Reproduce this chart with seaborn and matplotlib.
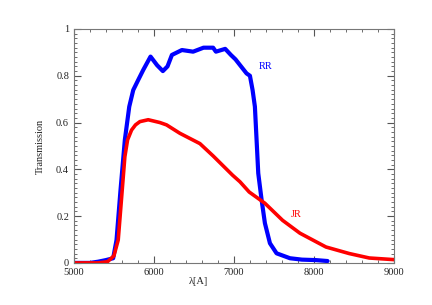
import matplotlib
matplotlib.use("Agg")
import matplotlib.pyplot as plt
import seaborn as sns
import pandas as pd
from matplotlib.ticker import MultipleLocator

# RR filter transmission
rr_wave = [5000, 5200, 5300, 5400, 5491, 5533, 5583, 5637, 5692, 5742, 5804, 5867,
           5958, 6040, 6112, 6170, 6225, 6350, 6490, 6620, 6740, 6775, 6891, 6962,
           7020, 7075, 7158, 7200, 7233, 7262, 7283, 7304, 7346, 7387, 7450, 7533,
           7700, 7850, 8025, 8170]
rr_trans = [0.0, 0.0, 0.005, 0.012, 0.02, 0.098, 0.312, 0.526, 0.668, 0.739, 0.782, 0.825,
            0.882, 0.845, 0.82, 0.84, 0.889, 0.91, 0.903, 0.92, 0.92, 0.903, 0.915, 0.889,
            0.87, 0.846, 0.81, 0.80, 0.739, 0.668, 0.526, 0.383, 0.269, 0.17, 0.084, 0.041,
            0.02, 0.014, 0.012, 0.008]

# JR filter transmission
jr_wave = [5000, 5300, 5420, 5500, 5554, 5604, 5637, 5671, 5721, 5770, 5825, 5929,
           6075, 6158, 6325, 6575, 6741, 6983, 7075, 7191, 7387, 7608, 7825, 8150,
           8441, 8691, 9000]
jr_trans = [0.0, 0.0, 0.005, 0.03, 0.098, 0.312, 0.454, 0.526, 0.568, 0.59, 0.604, 0.612,
            0.60, 0.59, 0.554, 0.51, 0.457, 0.375, 0.347, 0.303, 0.255, 0.182, 0.127, 0.068,
            0.04, 0.021, 0.014]

sns.set_style("ticks")
plt.rcParams["font.family"] = ["Liberation Serif", "DejaVu Serif"]

fig = plt.figure(figsize=(4.32, 3.05), dpi=100)
ax = fig.add_axes([0.171, 0.138, 0.741, 0.767])

rr = pd.DataFrame({"wave": rr_wave, "trans": rr_trans})
jr = pd.DataFrame({"wave": jr_wave, "trans": jr_trans})
sns.lineplot(data=rr, x="wave", y="trans", color="#0000ff", linewidth=3.0, ax=ax)
sns.lineplot(data=jr, x="wave", y="trans", color="#ff0000", linewidth=2.6, ax=ax)

ax.set_xlim(5000, 9000)
ax.set_ylim(0, 1)
ax.xaxis.set_major_locator(MultipleLocator(1000))
ax.xaxis.set_minor_locator(MultipleLocator(200))
ax.yaxis.set_major_locator(MultipleLocator(0.2))
ax.yaxis.set_minor_locator(MultipleLocator(0.02))
ax.yaxis.set_major_formatter(plt.FuncFormatter(lambda v, p: f"{v:g}"))
ax.tick_params(which="both", direction="in", top=True, right=True,
               color="#555555", labelsize=7.5, labelcolor="#222222")
ax.tick_params(which="major", length=5, width=0.8)
ax.tick_params(which="minor", length=2.5, width=0.6)
for s in ax.spines.values():
    s.set_color("#777777")
    s.set_linewidth(0.8)

ax.set_xlabel("λ[A]", fontsize=7.5, color="#222222", labelpad=4)
ax.xaxis.set_label_coords(0.39, -0.06)
ax.set_ylabel("Transmission", fontsize=7.5, color="#222222", labelpad=8)

ax.text(7400, 0.84, "RR", color="#0000ff", fontsize=7.5, va="center", ha="center")
ax.text(7780, 0.205, "JR", color="#ff0000", fontsize=7.5, va="center", ha="center")

fig.savefig("out.png", dpi=100)
